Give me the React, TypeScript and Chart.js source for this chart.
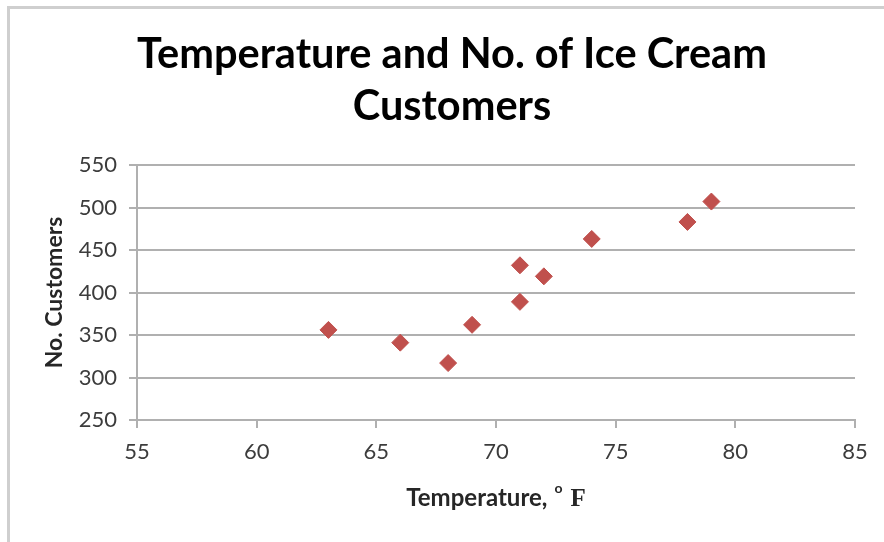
import React, { useEffect, useRef } from "react";
import { Chart, registerables } from "chart.js";

Chart.register(...registerables);

const temperatures = [63, 66, 68, 69, 71, 71, 72, 74, 78, 79];
const customers = [356, 341, 317, 362, 432, 389, 419, 463, 483, 507];
const titleLines = ["Temperature and No. of Ice Cream", "Customers"];
const yTitle = "No. Customers";
const xTitleMain = "Temperature,";
const xTitleDeg = "o";
const xTitleUnit = "F";

const FONT = "Lato, 'Open Sans', sans-serif";

const textPlugin = {
  id: "textPlugin",
  afterDraw(chart: any) {
    const { ctx, chartArea } = chart;
    ctx.save();
    // main title
    ctx.fillStyle = "#000000";
    ctx.textAlign = "center";
    ctx.textBaseline = "middle";
    ctx.font = `bold 41.5px ${FONT}`;
    ctx.fillText(titleLines[0], 452, 55);
    ctx.fillText(titleLines[1], 452, 107);

    // x axis title with superscript degree and serif unit
    ctx.fillStyle = "#262626";
    ctx.textBaseline = "alphabetic";
    ctx.textAlign = "left";
    const mainFont = `bold 24px ${FONT}`;
    const degFont = `bold 14px ${FONT}`;
    const unitFont = `bold 25px 'Liberation Serif', serif`;
    ctx.font = mainFont;
    const w1 = ctx.measureText(xTitleMain).width;
    ctx.font = degFont;
    const w2 = ctx.measureText(xTitleDeg).width;
    ctx.font = unitFont;
    const w3 = ctx.measureText(xTitleUnit).width;
    const gap1 = 7;
    const gap2 = 8;
    const total = w1 + gap1 + w2 + gap2 + w3;
    const cx = (chartArea.left + chartArea.right) / 2;
    let x = cx - total / 2;
    const baseY = 506;
    ctx.font = mainFont;
    ctx.fillText(xTitleMain, x, baseY);
    x += w1 + gap1;
    ctx.font = degFont;
    ctx.fillText(xTitleDeg, x, baseY - 13);
    x += w2 + gap2;
    ctx.font = unitFont;
    ctx.fillText(xTitleUnit, x, baseY);
    ctx.restore();
  },
};

export default function App() {
  const ref = useRef<HTMLCanvasElement | null>(null);

  useEffect(() => {
    if (!ref.current) return;
    const chart = new Chart(ref.current, {
      type: "scatter",
      data: {
        datasets: [
          {
            label: "Customers",
            data: temperatures.map((t, i) => ({ x: t, y: customers[i] })),
            pointStyle: "rectRot",
            pointRadius: 8.5,
            pointHoverRadius: 8.5,
            backgroundColor: "#C0504D",
            borderColor: "#C0504D",
            borderWidth: 1,
          },
        ],
      },
      options: {
        animation: false,
        responsive: false,
        layout: { padding: { left: 0, right: 29, top: 165, bottom: 0 } },
        plugins: {
          legend: { display: false },
          tooltip: { enabled: false },
          title: { display: false },
        },
        scales: {
          x: {
            type: "linear",
            min: 55,
            max: 85,
            ticks: {
              stepSize: 5,
              color: "#3c3c3c",
              font: { family: FONT, size: 22 },
              padding: 11,
            },
            grid: {
              drawOnChartArea: false,
              drawTicks: true,
              tickLength: 8,
              color: "#b0b0b0",
              lineWidth: 2,
            },
            border: { display: true, color: "#b0b0b0", width: 2 },
            afterFit: (scale: any) => {
              scale.height = 122;
            },
          },
          y: {
            type: "linear",
            min: 250,
            max: 550,
            ticks: {
              stepSize: 50,
              color: "#3c3c3c",
              font: { family: FONT, size: 22 },
              padding: 12,
            },
            grid: {
              drawOnChartArea: true,
              drawTicks: true,
              tickLength: 8,
              color: "#b0b0b0",
              lineWidth: 2,
            },
            border: { display: true, color: "#b0b0b0", width: 2 },
            title: {
              display: true,
              text: yTitle,
              color: "#262626",
              font: { family: FONT, size: 23, weight: "bold", lineHeight: 1.2 },
              padding: { top: 41, bottom: 0 },
            },
            afterFit: (scale: any) => {
              scale.width = 137;
            },
          },
        },
      },
      plugins: [textPlugin],
    });
    return () => chart.destroy();
  }, []);

  return (
    <div
      style={{
        position: "fixed",
        left: 0,
        top: 0,
        width: 884,
        height: 542,
        overflow: "hidden",
        background: "#ffffff",
      }}
    >
      <canvas ref={ref} width={884} height={542} style={{ display: "block" }} />
      <div
        style={{
          position: "absolute",
          left: 7,
          top: 6,
          width: 1000,
          height: 1000,
          borderLeft: "3px solid #cfcfcf",
          borderTop: "3px solid #cfcfcf",
          pointerEvents: "none",
        }}
      />
    </div>
  );
}
